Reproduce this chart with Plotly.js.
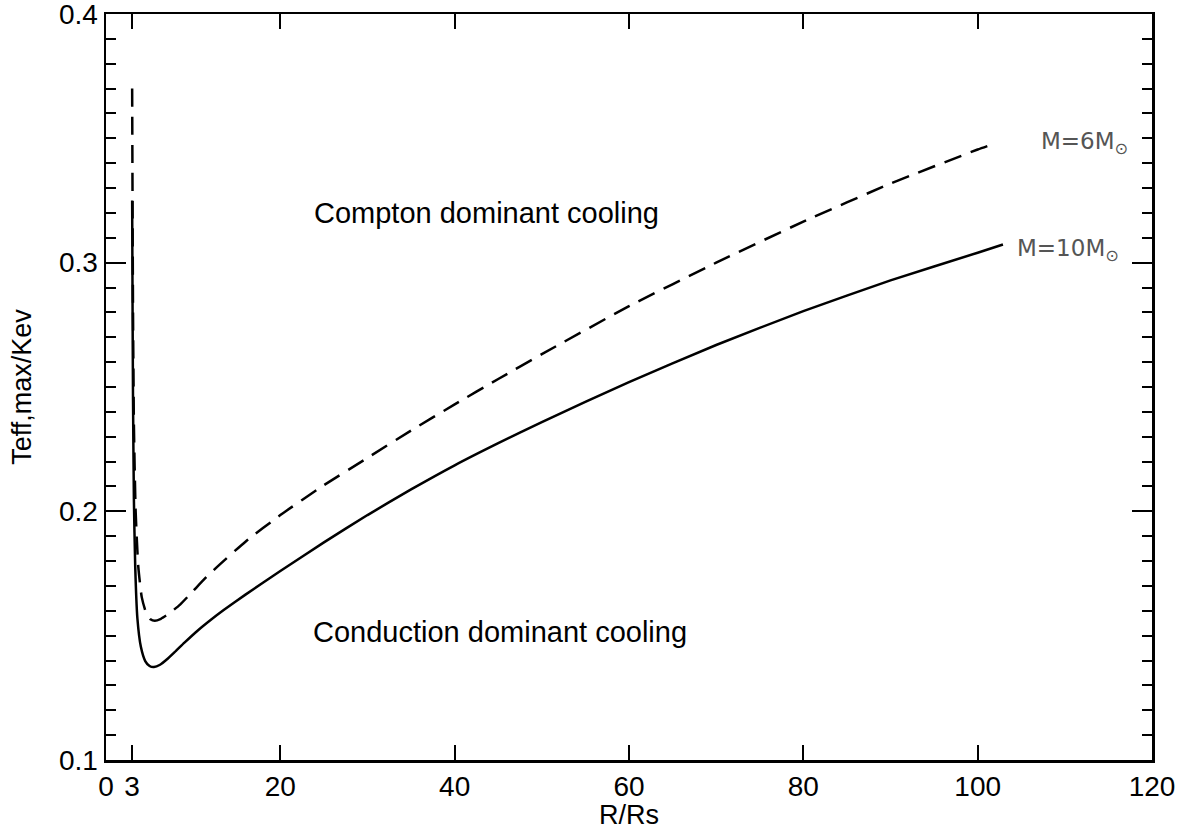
<!DOCTYPE html>
<html>
<head>
<meta charset="utf-8">
<script src="https://cdn.plot.ly/plotly-3.0.1.min.js"></script>
<style>html,body{margin:0;padding:0;background:#fff;}#chart{width:1180px;height:830px;}</style>
</head>
<body>
<div id="chart"></div>
<script>
// M = 10 Msun (solid)
const r10 = [3.0, 3.05, 3.1, 3.2, 3.35, 3.6, 4.0, 4.5, 5.0, 5.5, 6.2, 7.0, 8.0, 9.0, 10.5, 12, 13.5, 16, 18, 20, 25, 30, 35, 40, 45, 50, 60, 70, 80, 90, 100, 102.9];
const t10 = [0.325, 0.28, 0.245, 0.205, 0.178, 0.157, 0.1455, 0.1398, 0.1378, 0.1374, 0.1383, 0.1405, 0.1438, 0.1472, 0.152, 0.1563, 0.1603, 0.1665, 0.1713, 0.176, 0.1875, 0.1985, 0.2088, 0.2185, 0.2274, 0.2359, 0.252, 0.2669, 0.2805, 0.2929, 0.304, 0.3073];
// M = 6 Msun (dashed)
const r6 = [3.0, 3.05, 3.1, 3.2, 3.4, 3.7, 4.1, 4.6, 5.1, 5.6, 6.3, 7.2, 8.5, 10, 11.5, 13, 16, 20, 25, 30, 35, 40, 45, 50, 60, 70, 80, 90, 100, 102.0];
const t6 = [0.370, 0.32, 0.28, 0.235, 0.2, 0.178, 0.1655, 0.1592, 0.1566, 0.156, 0.1568, 0.1588, 0.1625, 0.168, 0.1735, 0.1785, 0.1878, 0.1985, 0.2105, 0.2215, 0.2325, 0.243, 0.2532, 0.2632, 0.2825, 0.3, 0.3165, 0.3318, 0.3455, 0.348];
const xTicks = [0, 3, 20, 40, 60, 80, 100, 120];
const xTickText = ['0', '3', '20', '40', '60', '80', '100', '120'];
const yTicks = [0.1, 0.2, 0.3, 0.4];
const yTickText = ['0.1', '0.2', '0.3', '0.4'];

const traces = [
  {x: r10, y: t10, mode: 'lines', line: {color: '#000', width: 2.5, shape: 'spline', smoothing: 0.5}, hoverinfo: 'none'},
  {x: r6, y: t6, mode: 'lines', line: {color: '#000', width: 2.5, dash: '18px,10px', shape: 'spline', smoothing: 0.5}, hoverinfo: 'none'}
];

const font = 'Liberation Sans, Arial, Helvetica, sans-serif';
const layout = {
  width: 1180, height: 830,
  margin: {l: 106, r: 28, t: 14, b: 70},
  paper_bgcolor: '#fff', plot_bgcolor: '#fff',
  showlegend: false,
  font: {family: font, color: '#000', size: 28},
  xaxis: {
    range: [0, 120], tickvals: xTicks, ticktext: xTickText,
    ticks: 'inside', ticklen: 15, tickwidth: 2, tickcolor: '#000',
    showline: true, linewidth: 2.5, linecolor: '#000', mirror: 'ticks',
    showgrid: false, zeroline: false, ticklabeloverflow: 'allow',
    tickfont: {size: 28, family: font},
    title: {text: 'R/Rs', font: {size: 27, family: font}, standoff: 2}
  },
  yaxis: {
    range: [0.1, 0.4], tickvals: yTicks, ticktext: yTickText,
    ticks: 'inside', ticklen: 20, tickwidth: 2, tickcolor: '#000',
    minor: {dtick: 0.01, tick0: 0.1, ticks: 'inside', ticklen: 10, tickwidth: 2, tickcolor: '#000', showgrid: false},
    showline: true, linewidth: 2.5, linecolor: '#000', mirror: 'ticks',
    showgrid: false, zeroline: false, ticklabeloverflow: 'allow',
    tickfont: {size: 28, family: font},
    title: {text: 'Teff,max/Kev', font: {size: 27, family: font}, standoff: 20}
  },
  annotations: [
    {x: 43.6, y: 0.320, xref: 'x', yref: 'y', text: 'Compton dominant cooling', showarrow: false, font: {size: 29, family: font, color: '#000'}},
    {x: 45.2, y: 0.1515, xref: 'x', yref: 'y', text: 'Conduction dominant cooling', showarrow: false, font: {size: 29, family: font, color: '#000'}},
    {x: 107.0, y: 0.348, xref: 'x', yref: 'y', xanchor: 'left', text: 'M=6M<sub>⊙</sub>', showarrow: false, font: {size: 23, family: 'DejaVu Sans', color: '#555'}},
    {x: 104.3, y: 0.305, xref: 'x', yref: 'y', xanchor: 'left', text: 'M=10M<sub>⊙</sub>', showarrow: false, font: {size: 23, family: 'DejaVu Sans', color: '#555'}}
  ]
};

Plotly.newPlot('chart', traces, layout, {displayModeBar: false, staticPlot: true});
</script>
</body>
</html>
